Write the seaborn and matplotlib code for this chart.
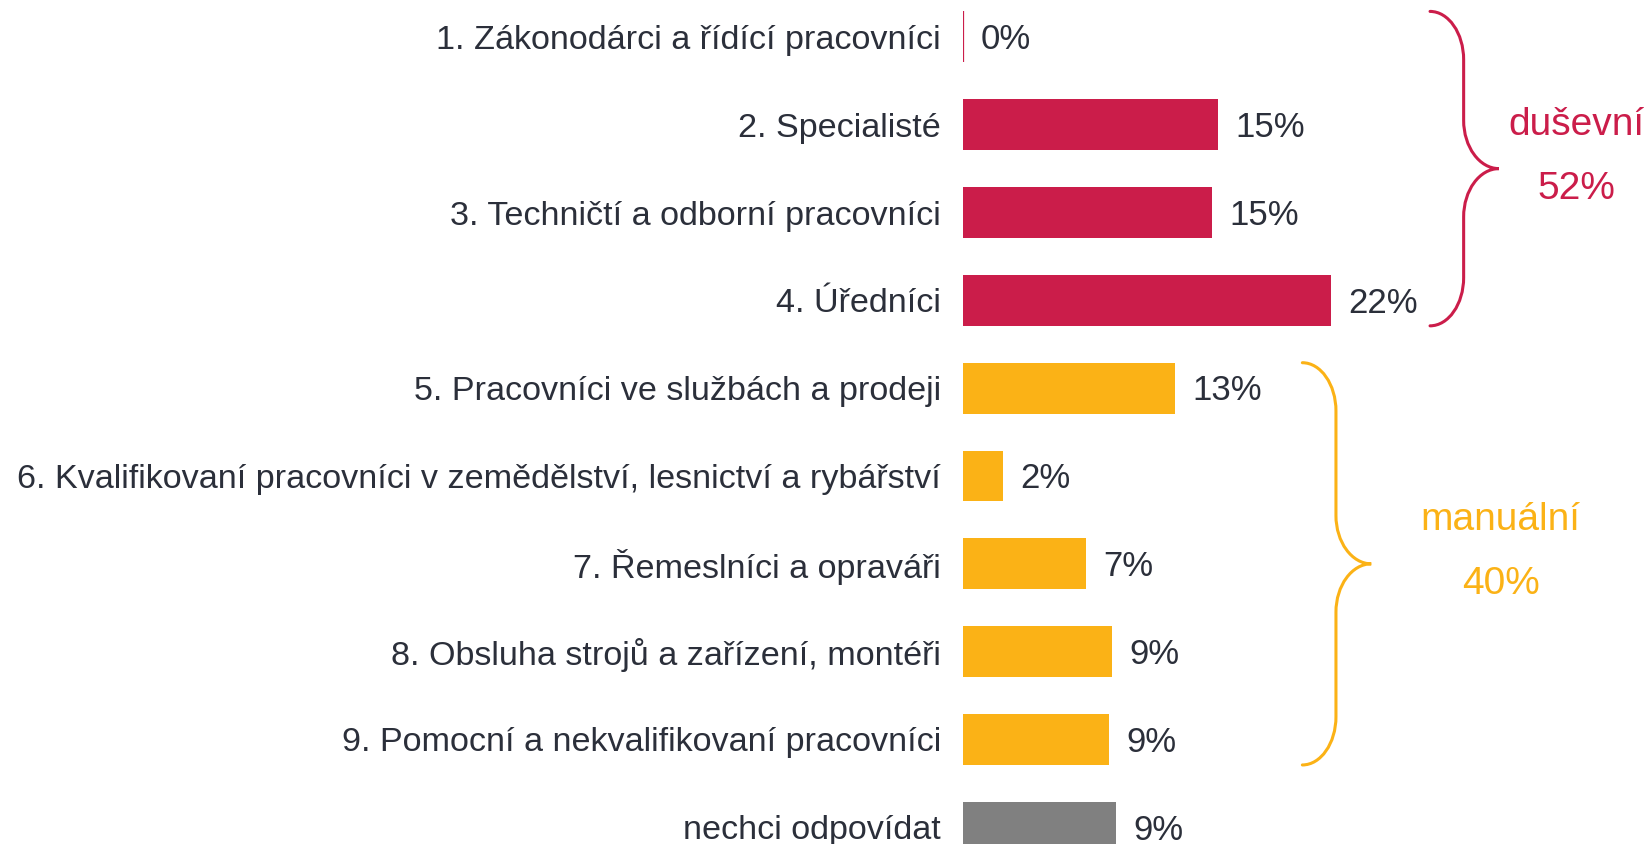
import numpy as np
import pandas as pd
import matplotlib
matplotlib.use("Agg")
import matplotlib.pyplot as plt
from matplotlib.path import Path
from matplotlib.patches import PathPatch
import seaborn as sns

# data
categories = [
    "1. Zákonodárci a řídící pracovníci",
    "2. Specialisté",
    "3. Techničtí a odborní pracovníci",
    "4. Úředníci",
    "5. Pracovníci ve službách a prodeji",
    "6. Kvalifikovaní pracovníci v zemědělství, lesnictví a rybářství",
    "7. Řemeslníci a opraváři",
    "8. Obsluha strojů a zařízení, montéři",
    "9. Pomocní a nekvalifikovaní pracovníci",
    "nechci odpovídat",
]
values = [0, 15.2, 14.8, 21.9, 12.6, 2.4, 7.3, 8.85, 8.7, 9.1]
groups = ["duševní"] * 4 + ["manuální"] * 5 + ["nechci"]

colors = {"duševní": "#CB1D4A", "manuální": "#FBB216", "nechci": "#808080"}
text_color = "#2B2F3A"

df = pd.DataFrame({"cat": categories, "val": values, "grp": groups})

sns.set_style("white")
plt.rcParams["font.family"] = ["Liberation Sans", "DejaVu Sans"]

fig = plt.figure(figsize=(16.49, 8.44), dpi=100)
ax = fig.add_axes([963 / 1649, 0, 1 - 963 / 1649, 1])

bar_w = 0.58
sns.barplot(data=df, x="val", y="cat", hue="grp", palette=colors, dodge=False,
            width=bar_w, legend=False, orient="h", ax=ax, saturation=1)

for p in ax.patches:
    w = p.get_width()
    if w == 0:
        p.set_edgecolor(p.get_facecolor())
        p.set_linewidth(1.6)
    else:
        p.set_linewidth(0)
    yc = p.get_y() + p.get_height() / 2
    ax.annotate(f"{w:.0f}%", (w, yc), xytext=(12.5, -2), textcoords="offset points",
                va="center", ha="left", fontsize=25, color=text_color)

ax.set_xlim(0, (1649 - 963) / 16.8)
ax.set_ylim(9.19, -0.42)
ax.set_xlabel("")
ax.set_ylabel("")
ax.set_xticks([])
ax.tick_params(axis="y", length=0, pad=16, labelsize=24.6, labelcolor=text_color)
sns.despine(ax=ax, left=True, bottom=True)


def brace(ax, y0, y1, x_tip, color, r=0.55, depth=2.0, nose=2.1):
    xs = x_tip + depth
    xp = xs + nose
    ym = (y0 + y1) / 2
    k = 0.55
    verts = [
        (x_tip, y0),
        (x_tip + k * depth, y0), (xs, y0 + r * (1 - k)), (xs, y0 + r),
        (xs, ym - r),
        (xs, ym - r * (1 - k)), (xp - k * nose, ym), (xp, ym),
        (xp - k * nose, ym), (xs, ym + r * (1 - k)), (xs, ym + r),
        (xs, y1 - r),
        (xs, y1 - r * (1 - k)), (x_tip + k * depth, y1), (x_tip, y1),
    ]
    codes = [Path.MOVETO,
             Path.CURVE4, Path.CURVE4, Path.CURVE4,
             Path.LINETO,
             Path.CURVE4, Path.CURVE4, Path.CURVE4,
             Path.CURVE4, Path.CURVE4, Path.CURVE4,
             Path.LINETO,
             Path.CURVE4, Path.CURVE4, Path.CURVE4]
    ax.add_patch(PathPatch(Path(verts, codes), fill=False, edgecolor=color,
                           lw=2.2, capstyle="round", clip_on=False))
    return xp, ym


# group braces
half = bar_w / 2
for grp, x_tip, txt_x in [("duševní", 27.8, 36.5), ("manuální", 20.2, 32.0)]:
    idx = [i for i, g in enumerate(groups) if g == grp]
    total = sum(values[i] for i in idx)
    xp, ym = brace(ax, idx[0] - half, idx[-1] + half, x_tip, colors[grp])
    ax.text(txt_x, ym - 0.5, grp, ha="center", va="center", fontsize=28, color=colors[grp])
    ax.text(txt_x, ym + 0.23, f"{total:.0f}%", ha="center", va="center", fontsize=28, color=colors[grp])

fig.savefig("out.png", dpi=100)
